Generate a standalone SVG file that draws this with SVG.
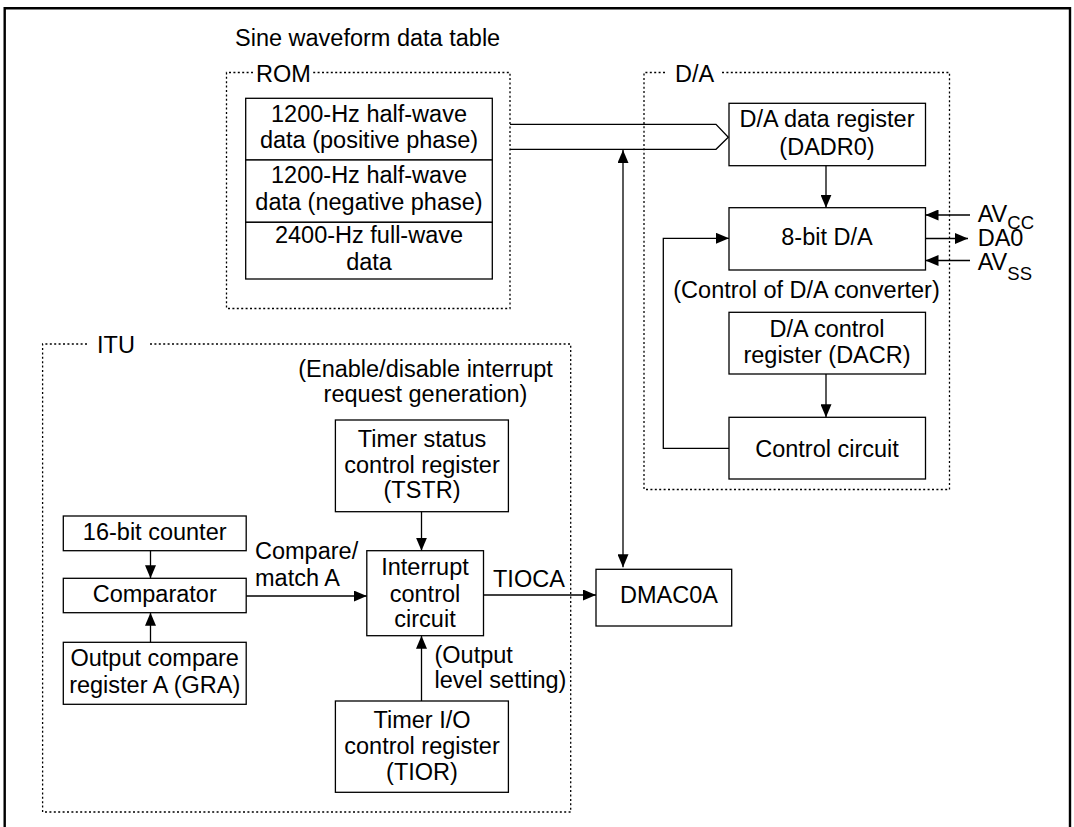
<svg xmlns="http://www.w3.org/2000/svg" width="1074" height="827" viewBox="0 0 1074 827">
<defs>
<style>
.t{font-family:"Liberation Sans",Arial,Helvetica,sans-serif;font-size:23.5px;fill:#000}
.m{text-anchor:middle}
.s{font-size:18.5px}
.box{fill:#fff;stroke:#000;stroke-width:1.3}
.dot{fill:none;stroke:#000;stroke-width:1.3;stroke-dasharray:2 2.4}
.ln{fill:none;stroke:#000;stroke-width:1.3}
.arr{fill:none;stroke:#000;stroke-width:1.3;marker-end:url(#ah)}
.arr2{fill:none;stroke:#000;stroke-width:1.3;marker-end:url(#ah);marker-start:url(#ah)}
</style>
<marker id="ah" markerWidth="13" markerHeight="11" refX="13" refY="5.5" orient="auto-start-reverse" markerUnits="userSpaceOnUse">
<path d="M0,0 L13,5.5 L0,11 z" fill="#000"/>
</marker>
</defs>
<rect width="1074" height="827" fill="#fff"/>
<path d="M4.7,840 V8.3 H1070 V840" fill="none" stroke="#000" stroke-width="2.4"/>

<g id="title">
<text class="t" x="235" y="46">Sine waveform data table</text>
</g>

<g id="rom">
<path class="dot" d="M253,72.5 H226.5 V308.5 H510 V72.5 H313"/>
<text class="t" x="256" y="81.7">ROM</text>
</g>
<g id="rom-row1">
<rect class="box" x="245.7" y="98.3" width="246.6" height="61.7"/>
<text class="t m" x="369" y="121.7">1200-Hz half-wave</text>
<text class="t m" x="369" y="147.7">data (positive phase)</text>
</g>
<g id="rom-row2">
<rect class="box" x="245.7" y="160" width="246.6" height="62.3"/>
<text class="t m" x="369" y="183.3">1200-Hz half-wave</text>
<text class="t m" x="369" y="210">data (negative phase)</text>
</g>
<g id="rom-row3">
<rect class="box" x="245.7" y="222.3" width="246.6" height="56.7"/>
<text class="t m" x="369" y="243.3">2400-Hz full-wave</text>
<text class="t m" x="369" y="270">data</text>
</g>

<g id="da">
<path class="dot" d="M665,72.5 H644 V489.5 H949.5 V72.5 H721"/>
<text class="t" x="675" y="82.3">D/A</text>
<text class="t" x="673.3" y="298">(Control of D/A converter)</text>
</g>
<g id="dadr0">
<rect class="box" x="729" y="103.3" width="196.5" height="62.4"/>
<text class="t m" x="827" y="126.7">D/A data register</text>
<text class="t m" x="827" y="155">(DADR0)</text>
</g>
<g id="da8">
<rect class="box" x="729" y="207.7" width="196.5" height="62.3"/>
<text class="t m" x="827" y="245">8-bit D/A</text>
</g>
<g id="dacr">
<rect class="box" x="729" y="312.3" width="196.5" height="61.7"/>
<text class="t m" x="827" y="336.7">D/A control</text>
<text class="t m" x="827" y="362.7">register (DACR)</text>
</g>
<g id="ctrl">
<rect class="box" x="729" y="417.3" width="196.5" height="61.7"/>
<text class="t m" x="827" y="456.7">Control circuit</text>
</g>
<g id="pins">
<text class="t" x="977.7" y="221.7">AV<tspan class="s" dy="6.8">CC</tspan></text>
<text class="t" x="977.7" y="246">DA0</text>
<text class="t" x="977.7" y="269.5">AV<tspan class="s" dy="10">SS</tspan></text>
</g>

<g id="itu">
<path class="dot" d="M87,344 H42.6 V812 H570.7 V344 H148.6"/>
<text class="t" x="97" y="353.3">ITU</text>
<text class="t m" x="425.5" y="376.7">(Enable/disable interrupt</text>
<text class="t m" x="425.5" y="401.7">request generation)</text>
<text class="t" x="255" y="559.3">Compare/</text>
<text class="t" x="255" y="586">match A</text>
<text class="t" x="493" y="586.7">TIOCA</text>
<text class="t" x="434.5" y="663.3">(Output</text>
<text class="t" x="434.5" y="688.3">level setting)</text>
</g>
<g id="tstr">
<rect class="box" x="335.4" y="420" width="173" height="91.7"/>
<text class="t m" x="422" y="446.7">Timer status</text>
<text class="t m" x="422" y="473.3">control register</text>
<text class="t m" x="422" y="498.3">(TSTR)</text>
</g>
<g id="icc">
<rect class="box" x="366.8" y="550.7" width="116.7" height="85"/>
<text class="t m" x="425" y="575">Interrupt</text>
<text class="t m" x="425" y="601.7">control</text>
<text class="t m" x="425" y="627.3">circuit</text>
</g>
<g id="tior">
<rect class="box" x="335.4" y="701" width="173" height="91.3"/>
<text class="t m" x="422" y="728.3">Timer I/O</text>
<text class="t m" x="422" y="754">control register</text>
<text class="t m" x="422" y="780">(TIOR)</text>
</g>
<g id="counter">
<rect class="box" x="63.3" y="516" width="182.9" height="34.7"/>
<text class="t m" x="154.7" y="540">16-bit counter</text>
</g>
<g id="comparator">
<rect class="box" x="63.3" y="578.3" width="182.9" height="34.4"/>
<text class="t m" x="154.7" y="602">Comparator</text>
</g>
<g id="gra">
<rect class="box" x="63.3" y="642.3" width="182.9" height="62"/>
<text class="t m" x="154.7" y="666">Output compare</text>
<text class="t m" x="154.7" y="692.7">register A (GRA)</text>
</g>
<g id="dmac0a">
<rect class="box" x="596" y="569.3" width="135.7" height="56.7"/>
<text class="t" x="620" y="603.3">DMAC0A</text>
</g>

<g id="connectors">
<path class="ln" d="M510,124.3 H716 L728.3,137.3 L716,149.3 H510"/>
<path class="arr2" d="M623,150 V567.3"/>
<path class="arr" d="M826,165.7 V207.7"/>
<path class="arr" d="M970,215 H925.5"/>
<path class="arr" d="M925.5,238.5 H968"/>
<path class="arr" d="M970,260.5 H925.5"/>
<path class="arr" d="M729,448.3 H663.3 V238.3 H729"/>
<path class="arr" d="M826,374 V417.3"/>
<path class="arr" d="M421.5,511.7 V550.7"/>
<path class="arr" d="M421.5,701 V635.7"/>
<path class="arr" d="M246.2,596 H366.8"/>
<path class="arr" d="M483.5,595 H596"/>
<path class="arr" d="M150.5,550.7 V578.3"/>
<path class="arr" d="M150.5,642.3 V612.7"/>
</g>
</svg>
